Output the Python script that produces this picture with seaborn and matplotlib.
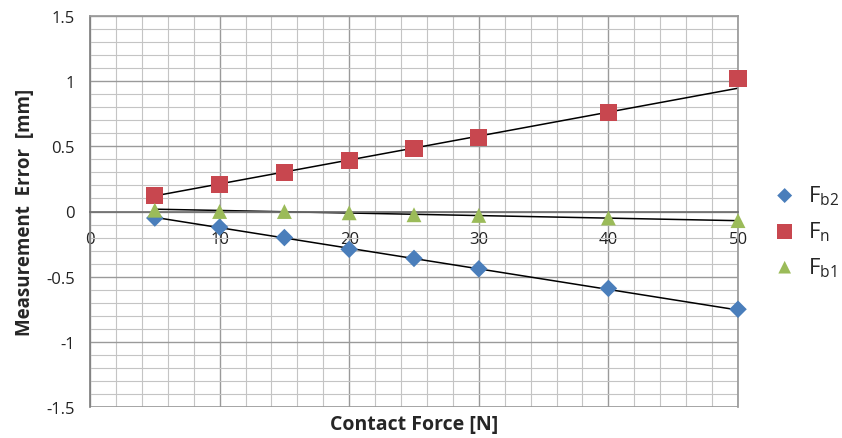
import matplotlib
matplotlib.use('Agg')
import matplotlib.pyplot as plt
from matplotlib.ticker import MultipleLocator
import numpy as np
import pandas as pd
import seaborn as sns

sns.set_theme(style='white')
plt.rcParams['font.family'] = ['Open Sans', 'DejaVu Sans']
plt.rcParams['mathtext.default'] = 'regular'

# contact force [N]
force = [5, 10, 15, 20, 25, 30, 40, 50]
# measurement error [mm]
err_fb2 = [-0.05, -0.12, -0.20, -0.29, -0.36, -0.44, -0.59, -0.75]
err_fn = [0.12, 0.21, 0.30, 0.39, 0.48, 0.57, 0.76, 1.02]
err_fb1 = [0.01, 0.00, 0.00, -0.01, -0.025, -0.03, -0.05, -0.07]

# trendline parameters (error = slope * force + intercept)
trend_slope = [-0.0158, 0.01836, -0.00196]
trend_intercept = [0.034, 0.028, 0.0276]
trend_range = [5, 50]

series_names = ['$F_{b2}$', '$F_{n}$', '$F_{b1}$']
series_vals = [err_fb2, err_fn, err_fb1]
colors = ['#4A7EBB', '#C8474F', '#9BBB59']
markers = ['D', 's', '^']
sizes = [80, 150, 115]

df = pd.concat([pd.DataFrame({'force': force, 'error': v, 'series': n})
                for n, v in zip(series_names, series_vals)], ignore_index=True)

fig = plt.figure(figsize=(8.42, 4.39), dpi=100)
ax = fig.add_axes([90 / 842, 31 / 439, 648 / 842, 391 / 439])

# linear trendlines
xs = np.array(trend_range)
for k, b in zip(trend_slope, trend_intercept):
    ax.plot(xs, k * xs + b, color='black', lw=1.1, zorder=2)

for n, c, m, s in zip(series_names, colors, markers, sizes):
    sns.scatterplot(data=df[df['series'] == n], x='force', y='error', color=c,
                    marker=m, s=s, edgecolor='none', ax=ax, label=n, zorder=3,
                    clip_on=False)

ax.set_xlim(0, 50)
ax.set_ylim(-1.5, 1.5)
ax.xaxis.set_major_locator(MultipleLocator(10))
ax.xaxis.set_minor_locator(MultipleLocator(2))
ax.yaxis.set_minor_locator(MultipleLocator(0.1))
ax.set_yticks([-1.5, -1, -0.5, 0, 0.5, 1, 1.5])
ax.set_yticklabels(['-1.5', '-1', '-0.5', '0', '0.5', '1', '1.5'])
ax.grid(which='major', color='#9a9a9a', lw=1.0)
ax.grid(which='minor', color='#c4c4c4', lw=0.8)
ax.set_axisbelow(True)

for side in ['top', 'right']:
    ax.spines[side].set_color('#9a9a9a')
ax.spines['left'].set_color('#808080')
ax.spines['bottom'].set_position(('data', 0))
ax.spines['bottom'].set_color('#707070')
ax.tick_params(axis='both', length=0, labelsize=12, colors='#222222')
ax.tick_params(axis='x', pad=14)
ax.tick_params(axis='y', pad=11)

# bottom border at -1.5
ax.axhline(-1.5, color='#9a9a9a', lw=1.2, zorder=1)

ax.set_xlabel('')
ax.set_ylabel('Measurement  Error  [mm]', fontsize=13.5, fontweight='bold', labelpad=8)
fig.text(414 / 842, 14 / 439, 'Contact Force [N]', ha='center', va='center',
         fontsize=14, fontweight='bold')

ax.legend_.remove()
h, l = ax.get_legend_handles_labels()
fig.legend(h, l, loc='center left', bbox_to_anchor=(748 / 842, 1 - 232 / 439),
           frameon=False, fontsize=16, handletextpad=0.3, labelspacing=0.55,
           markerscale=0.85, handlelength=1.5)

fig.savefig('out.png', dpi=100)
